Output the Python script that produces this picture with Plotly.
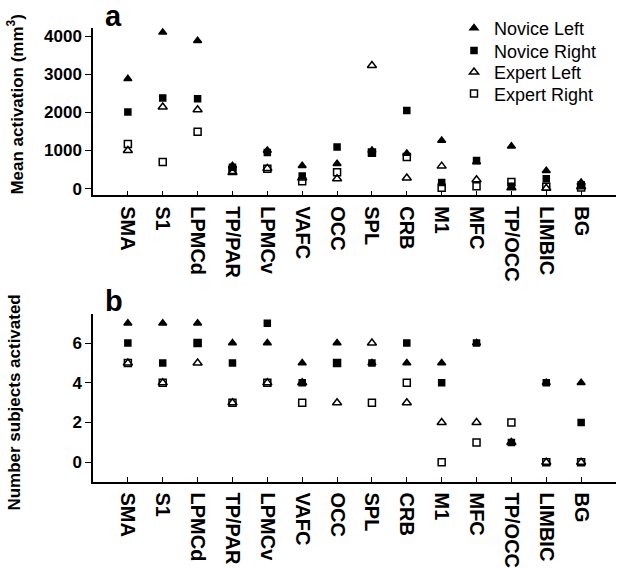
import plotly.graph_objects as go

regions = ["SMA", "S1", "LPMCd", "TP/PAR", "LPMCv", "VAFC", "OCC", "SPL",
           "CRB", "M1", "MFC", "TP/OCC", "LIMBIC", "BG"]

# Panel a: mean activation (mm^3)
novice_left_a = [2880, 4100, 3880, 600, 1000, 600, 650, 1000, 920, 1265, 700, 1110, 470, 160]
novice_right_a = [2010, 2380, 2360, 560, 950, 330, 1090, 930, 2050, 160, 740, 60, 260, 100]
expert_left_a = [1000, 2140, 2070, 420, 530, 280, 260, 3230, 280, 590, 230, 20, 10, 50]
expert_right_a = [1170, 700, 1490, 490, 520, 190, 430, 950, 830, 20, 60, 170, 50, 30]

# Panel b: number of subjects activated
novice_left_b = [7, 7, 7, 6, 6, 5, 6, 5, 5, 5, 6, 1, 4, 4]
novice_right_b = [6, 5, 6, 5, 7, 4, 5, 5, 6, 4, 6, 1, 4, 2]
expert_left_b = [5, 4, 5, 3, 4, 4, 3, 6, 3, 2, 2, 1, 0, 0]
expert_right_b = [5, 4, 6, 3, 4, 3, 5, 3, 4, 0, 1, 2, 0, 0]

series_names = ["Novice Left", "Novice Right", "Expert Left", "Expert Right"]
symbols = ["triangle-up", "square", "triangle-up-open", "square-open"]
sizes = [7, 6, 8, 7]
legend_ids = ["legend", "legend2", "legend3", "legend4"]
legend_rows = [28, 51, 73, 95]  # pixel centre of each legend row

FONT = "Liberation Sans, Arial, Helvetica, sans-serif"
W, H = 619, 568

fig = go.Figure()

panel_a = [novice_left_a, novice_right_a, expert_left_a, expert_right_a]
panel_b = [novice_left_b, novice_right_b, expert_left_b, expert_right_b]

for i, (name, sym, sz) in enumerate(zip(series_names, symbols, sizes)):
    fig.add_trace(go.Scatter(
        x=regions, y=panel_a[i], mode="markers", name=name,
        marker=dict(symbol=sym, size=sz, color="black", line=dict(width=1.5, color="black")),
        xaxis="x", yaxis="y", showlegend=True, legend=legend_ids[i], cliponaxis=False))
for i, (name, sym, sz) in enumerate(zip(series_names, symbols, sizes)):
    fig.add_trace(go.Scatter(
        x=regions, y=panel_b[i], mode="markers", name=name,
        marker=dict(symbol=sym, size=sz, color="black", line=dict(width=1.5, color="black")),
        xaxis="x2", yaxis="y2", showlegend=False, cliponaxis=False))

xdom = [93 / W, 616 / W]

common_x = dict(
    type="category", categoryorder="array", categoryarray=regions,
    range=[-1, 14], showline=True, linecolor="black", linewidth=1.5,
    ticks="inside", ticklen=5, tickwidth=1.2, tickcolor="black",
    tickangle=90, showgrid=False, zeroline=False, ticklabelstandoff=5,
    tickfont=dict(family=FONT, size=20, color="black", weight="bold"),
)
common_y = dict(
    showline=True, linecolor="black", linewidth=1.5,
    ticks="outside", ticklen=6, tickwidth=1.2, tickcolor="black",
    showgrid=False, zeroline=False,
    tickfont=dict(family=FONT, size=17, color="black", weight="bold"),
)

layout_legends = {}
for lid, row in zip(legend_ids, legend_rows):
    layout_legends[lid] = dict(
        x=454 / W, y=1 - row / H, xanchor="left", yanchor="middle",
        font=dict(family=FONT, size=18, color="black"),
        bgcolor="rgba(0,0,0,0)", borderwidth=0)

fig.update_layout(
    width=W, height=H,
    margin=dict(l=0, r=0, t=0, b=0),
    paper_bgcolor="white", plot_bgcolor="white",
    xaxis=dict(common_x, domain=xdom, anchor="y"),
    yaxis=dict(common_y, domain=[1 - 199 / H, 1 - 28 / H], anchor="x",
               range=[-180, 4205], tickvals=[0, 1000, 2000, 3000, 4000]),
    xaxis2=dict(common_x, domain=xdom, anchor="y2"),
    yaxis2=dict(common_y, domain=[1 - 492 / H, 1 - 320 / H], anchor="x2",
                range=[-0.98, 7.48], tickvals=[0, 2, 4, 6]),
    showlegend=True,
    annotations=[
        dict(text="<b>a</b>", x=103 / W, y=1 - 15 / H, xref="paper", yref="paper",
             xanchor="left", yanchor="middle", showarrow=False,
             font=dict(family=FONT, size=29, color="black")),
        dict(text="<b>b</b>", x=103 / W, y=1 - 307 / H, xref="paper", yref="paper",
             xanchor="left", yanchor="middle", showarrow=False,
             font=dict(family=FONT, size=29, color="black")),
        dict(text="<b>Mean activation (mm<sup>3</sup>)</b>", x=15 / W, y=1 - 106 / H,
             xref="paper", yref="paper", xanchor="center", yanchor="middle",
             textangle=-90, showarrow=False,
             font=dict(family=FONT, size=17, color="black")),
        dict(text="<b>Number subjects activated</b>", x=15 / W, y=1 - 411 / H,
             xref="paper", yref="paper", xanchor="center", yanchor="middle",
             textangle=-90, showarrow=False,
             font=dict(family=FONT, size=17, color="black")),
    ],
    **layout_legends,
)

fig.write_html("out.html", config={"displayModeBar": False},
               post_script="document.body.style.margin='0px';")
